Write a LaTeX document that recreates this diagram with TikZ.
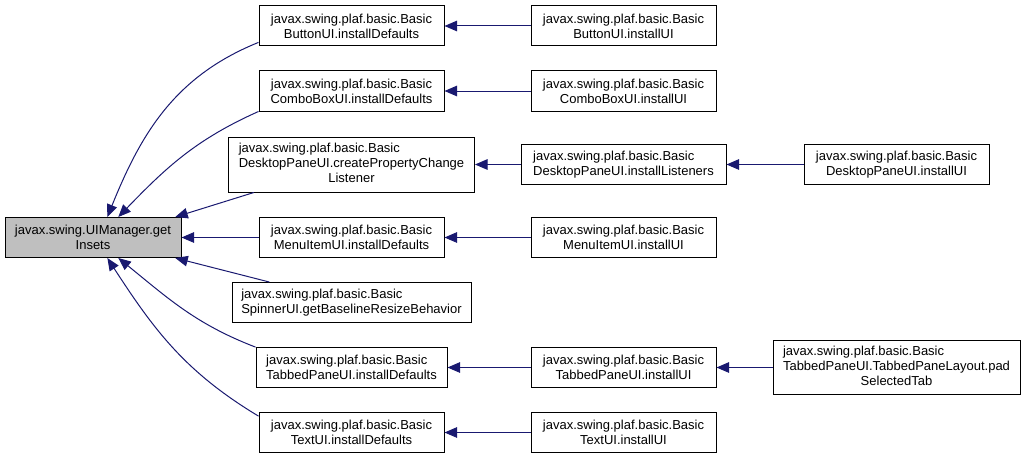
\documentclass[tikz,border=0pt]{standalone}
\usepackage{fontspec}
\setmainfont{Liberation Sans}
\usepackage{tikz}
\usetikzlibrary{arrows.meta}
\definecolor{edgeBlue}{RGB}{25,25,112}
\definecolor{rootGray}{RGB}{191,191,191}
\tikzstyle{fCall} = [rectangle, draw=black, line width=1pt, inner sep=0pt, minimum width=185pt, minimum height=40pt, align=center, font=\fontsize{13}{15}\selectfont]
\tikzstyle{fRoot} = [fCall, fill=rootGray, minimum width=176pt]
\tikzstyle{fArrow} = [draw=edgeBlue, line width=1pt, -{Triangle[length=12.5pt,width=10.5pt]}]

\begin{document}
\begin{tikzpicture}[x=1pt, y=1pt, node distance=65pt]
    \useasboundingbox (0,0) rectangle (1025,-460);
    \node (btnDef) [fCall] at (351.5,-26) {javax.swing.plaf.basic.Basic\\ButtonUI.installDefaults};
    \node (cmbDef) [fCall, below of=btnDef] {javax.swing.plaf.basic.Basic\\ComboBoxUI.installDefaults};
    \node (dskCreate) [fCall, below of=cmbDef, yshift=-8.5pt, minimum width=246pt, minimum height=55pt] {\begin{tabular}{@{}l@{}}javax.swing.plaf.basic.Basic\\DesktopPaneUI.createPropertyChange\\\multicolumn{1}{@{}c@{}}{Listener}\end{tabular}};
    \node (mnuDef) [fCall, below of=dskCreate, yshift=-8pt] {javax.swing.plaf.basic.Basic\\MenuItemUI.installDefaults};
    \node (spnBehavior) [fCall, below of=mnuDef, minimum width=239pt, align=left] {javax.swing.plaf.basic.Basic\\SpinnerUI.getBaselineResizeBehavior};
    \node (tabDef) [fCall, below of=spnBehavior, minimum width=191pt, align=left] {javax.swing.plaf.basic.Basic\\TabbedPaneUI.installDefaults};
    \node (txtDef) [fCall, below of=tabDef] {javax.swing.plaf.basic.Basic\\TextUI.installDefaults};
    \node (root) [fRoot, left of=mnuDef, node distance=258.5pt] {javax.swing.UIManager.get\\Insets};

    \node (btnUI) [fCall, right of=btnDef, node distance=272pt] {javax.swing.plaf.basic.Basic\\ButtonUI.installUI};
    \node (cmbUI) [fCall, right of=cmbDef, node distance=272pt] {javax.swing.plaf.basic.Basic\\ComboBoxUI.installUI};
    \node (dskListeners) [fCall, right of=dskCreate, node distance=272pt, minimum width=205pt, align=left] {javax.swing.plaf.basic.Basic\\DesktopPaneUI.installListeners};
    \node (mnuUI) [fCall, right of=mnuDef, node distance=272pt] {javax.swing.plaf.basic.Basic\\MenuItemUI.installUI};
    \node (tabUI) [fCall, right of=tabDef, node distance=272pt] {javax.swing.plaf.basic.Basic\\TabbedPaneUI.installUI};
    \node (txtUI) [fCall, right of=txtDef, node distance=272pt] {javax.swing.plaf.basic.Basic\\TextUI.installUI};
    \node (dskUI) [fCall, right of=dskListeners, node distance=273pt] {javax.swing.plaf.basic.Basic\\DesktopPaneUI.installUI};
    \node (tabPad) [fCall, right of=tabUI, node distance=273pt, minimum width=247pt, minimum height=54pt] {\begin{tabular}{@{}l@{}}javax.swing.plaf.basic.Basic\\TabbedPaneUI.TabbedPaneLayout.pad\\\multicolumn{1}{@{}c@{}}{SelectedTab}\end{tabular}};

    \draw [fArrow] (btnDef.190) to[out=202, in=68] (root.55);
    \draw [fArrow] (cmbDef.south west) to[out=204, in=46] (root.39);
    \draw [fArrow] (dskCreate.196) -- (root.14);
    \draw [fArrow] (mnuDef) -- (root);
    \draw [fArrow] (spnBehavior.166) -- (root.-14);
    \draw [fArrow] (tabDef.168) to[out=159, in=-39] (root.-39);
    \draw [fArrow] (txtDef.170) to[out=149, in=-57] (root.-55);

    \draw [fArrow] (btnUI) -- (btnDef);
    \draw [fArrow] (cmbUI) -- (cmbDef);
    \draw [fArrow] (dskListeners) -- (dskCreate);
    \draw [fArrow] (mnuUI) -- (mnuDef);
    \draw [fArrow] (tabUI) -- (tabDef);
    \draw [fArrow] (txtUI) -- (txtDef);
    \draw [fArrow] (dskUI) -- (dskListeners);
    \draw [fArrow] (tabPad) -- (tabUI);
\end{tikzpicture}
\end{document}
